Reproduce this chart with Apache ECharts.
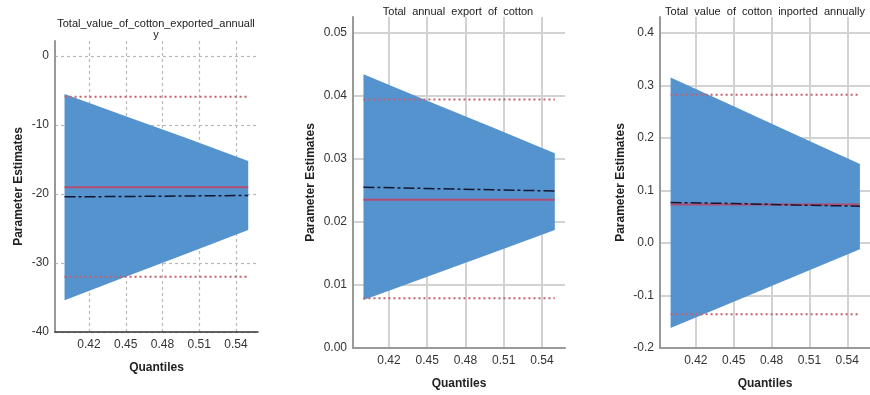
<!DOCTYPE html>
<html>
<head>
<meta charset="utf-8">
<script src="https://cdn.jsdelivr.net/npm/echarts@6/dist/echarts.min.js"></script>
<style>
  html, body { margin: 0; padding: 0; background: #fff; }
  #chart { width: 870px; height: 395px; }
</style>
</head>
<body>
<div id="chart"></div>
<script>
// Quantiles at which the regressions were estimated
const quantiles = [0.40, 0.45, 0.50, 0.55];
const xTickValues = [0.42, 0.45, 0.48, 0.51, 0.54];

// Total_value_of_cotton_exported_annually
const exportValueEstimate = [-20.4, -20.35, -20.27, -20.2];
const exportValueLower = [-35.4, -32.0, -28.6, -25.2];
const exportValueUpper = [-5.5, -8.7, -11.9, -15.2];
const exportValueOls = -19.0;
const exportValueOlsLower = -32.0;
const exportValueOlsUpper = -5.9;
const exportValueTicks = [-40, -30, -20, -10, 0];

// Total annual export of cotton
const exportTotalEstimate = [0.0255, 0.0253, 0.0251, 0.0249];
const exportTotalLower = [0.0076, 0.0113, 0.0150, 0.0187];
const exportTotalUpper = [0.0434, 0.0392, 0.0351, 0.0309];
const exportTotalOls = 0.0235;
const exportTotalOlsLower = 0.0079;
const exportTotalOlsUpper = 0.0394;
const exportTotalTicks = [0.00, 0.01, 0.02, 0.03, 0.04, 0.05];

// Total value of cotton imported annually
const importValueEstimate = [0.077, 0.075, 0.072, 0.070];
const importValueLower = [-0.162, -0.112, -0.062, -0.012];
const importValueUpper = [0.315, 0.260, 0.205, 0.150];
const importValueOls = 0.073;
const importValueOlsLower = -0.136;
const importValueOlsUpper = 0.282;
const importValueTicks = [-0.2, -0.1, 0.0, 0.1, 0.2, 0.3, 0.4];

const FONT = 'Liberation Sans, Arial, sans-serif';
const BAND = '#5593cf';
const OLS_COLOR = '#b24d70';
const CI_COLOR = '#c4606c';
const EST_COLOR = '#151530';

const panels = [
  {
    grid: { left: 55, top: 41, width: 203, height: 291 },
    xRange: [0.3922, 0.558], yRange: [-40, 2.2],
    yTicks: exportValueTicks, yFmt: v => String(Math.round(v)),
    est: exportValueEstimate, lo: exportValueLower, hi: exportValueUpper,
    ols: exportValueOls, olsLo: exportValueOlsLower, olsHi: exportValueOlsUpper,
    dashedGrid: true, yNameGap: 30
  },
  {
    grid: { left: 353, top: 17, width: 212, height: 334 },
    xRange: [0.3918, 0.558], yRange: [0, 0.0525],
    yTicks: exportTotalTicks, yFmt: v => v.toFixed(2),
    est: exportTotalEstimate, lo: exportTotalLower, hi: exportTotalUpper,
    ols: exportTotalOls, olsLo: exportTotalOlsLower, olsHi: exportTotalOlsUpper,
    dashedGrid: false, yNameGap: 36
  },
  {
    grid: { left: 660, top: 17, width: 211, height: 335 },
    xRange: [0.3916, 0.558], yRange: [-0.2, 0.43],
    yTicks: importValueTicks, yFmt: v => v.toFixed(1),
    est: importValueEstimate, lo: importValueLower, hi: importValueUpper,
    ols: importValueOls, olsLo: importValueOlsLower, olsHi: importValueOlsUpper,
    dashedGrid: false, yNameGap: 33
  }
];

const grids = [], xAxes = [], yAxes = [], series = [];

panels.forEach((p, i) => {
  grids.push(Object.assign({ containLabel: false }, p.grid));
  const gridLine = p.dashedGrid
    ? { show: true, lineStyle: { color: '#b9b9b9', width: 1.2, type: [3, 3] } }
    : { show: true, lineStyle: { color: '#d2d2d2', width: 2 } };
  xAxes.push({
    type: 'value', gridIndex: i, min: p.xRange[0], max: p.xRange[1],
    name: 'Quantiles', nameLocation: 'middle', nameGap: 30,
    nameTextStyle: { fontFamily: FONT, fontSize: 12, fontWeight: 'bold', color: '#222' },
    axisLine: { show: true, onZero: false, lineStyle: { color: p.dashedGrid ? '#333' : '#999', width: p.dashedGrid ? 1.5 : 2 } },
    axisTick: { show: false, customValues: xTickValues },
    axisLabel: { customValues: xTickValues, formatter: v => v.toFixed(2), fontFamily: FONT, fontSize: 12, color: '#333', margin: 7 },
    splitLine: gridLine
  });
  yAxes.push({
    type: 'value', gridIndex: i, min: p.yRange[0], max: p.yRange[1],
    name: 'Parameter Estimates', nameLocation: 'middle', nameGap: p.yNameGap,
    nameTextStyle: { fontFamily: FONT, fontSize: 12, fontWeight: 'bold', color: '#222' },
    axisLine: { show: true, onZero: false, lineStyle: { color: '#999', width: 2 } },
    axisTick: { show: false, customValues: p.yTicks },
    axisLabel: { customValues: p.yTicks, formatter: p.yFmt, fontFamily: FONT, fontSize: 12, color: '#333', margin: 6 },
    splitLine: gridLine
  });

  const lo = p.lo, hi = p.hi;
  // Confidence band of the quantile estimate, drawn as one polygon
  series.push({
    type: 'custom', xAxisIndex: i, yAxisIndex: i, z: 1, silent: true,
    data: quantiles.map((q, k) => [q, lo[k], hi[k]]),
    encode: { x: 0, y: [1, 2] },
    renderItem: (params, api) => {
      if (params.dataIndex !== 0) return null;
      const pts = [];
      for (let k = 0; k < quantiles.length; k++) pts.push(api.coord([quantiles[k], hi[k]]));
      for (let k = quantiles.length - 1; k >= 0; k--) pts.push(api.coord([quantiles[k], lo[k]]));
      return { type: 'polygon', shape: { points: pts }, style: { fill: BAND } };
    }
  });
  const qEnds = [quantiles[0], quantiles[quantiles.length - 1]];
  // OLS confidence limits
  [p.olsLo, p.olsHi].forEach(v => series.push({
    type: 'line', xAxisIndex: i, yAxisIndex: i, z: 3, symbol: 'none', silent: true,
    data: qEnds.map(q => [q, v]),
    lineStyle: { color: CI_COLOR, width: 2, type: [2, 3] }
  }));
  // OLS estimate
  series.push({
    type: 'line', xAxisIndex: i, yAxisIndex: i, z: 3, symbol: 'none', silent: true,
    data: qEnds.map(q => [q, p.ols]),
    lineStyle: { color: OLS_COLOR, width: 2 }
  });
  // Quantile regression estimate
  series.push({
    type: 'line', xAxisIndex: i, yAxisIndex: i, z: 4, symbol: 'none', silent: true,
    data: quantiles.map((q, k) => [q, p.est[k]]),
    lineStyle: { color: EST_COLOR, width: 1.5, type: [11, 3, 3, 3] }
  });
});

const titleStyle = { fontFamily: FONT, fontSize: 11, fill: '#222', align: 'center', verticalAlign: 'middle' };
const chart = echarts.init(document.getElementById('chart'), null, { renderer: 'canvas' });
chart.setOption({
  animation: false,
  backgroundColor: '#fff',
  grid: grids,
  xAxis: xAxes,
  yAxis: yAxes,
  series: series,
  graphic: [
    { type: 'text', x: 156, y: 24, style: Object.assign({ text: 'Total_value_of_cotton_exported_annuall\ny', lineHeight: 11.5 }, titleStyle, { verticalAlign: 'top' }), y: 18 },
    { type: 'text', x: 458, y: 12, style: Object.assign({ text: 'Total  annual  export  of  cotton' }, titleStyle) },
    { type: 'text', x: 765, y: 12, style: Object.assign({ text: 'Total  value  of  cotton  inported  annually' }, titleStyle) }
  ]
});
</script>
</body>
</html>
